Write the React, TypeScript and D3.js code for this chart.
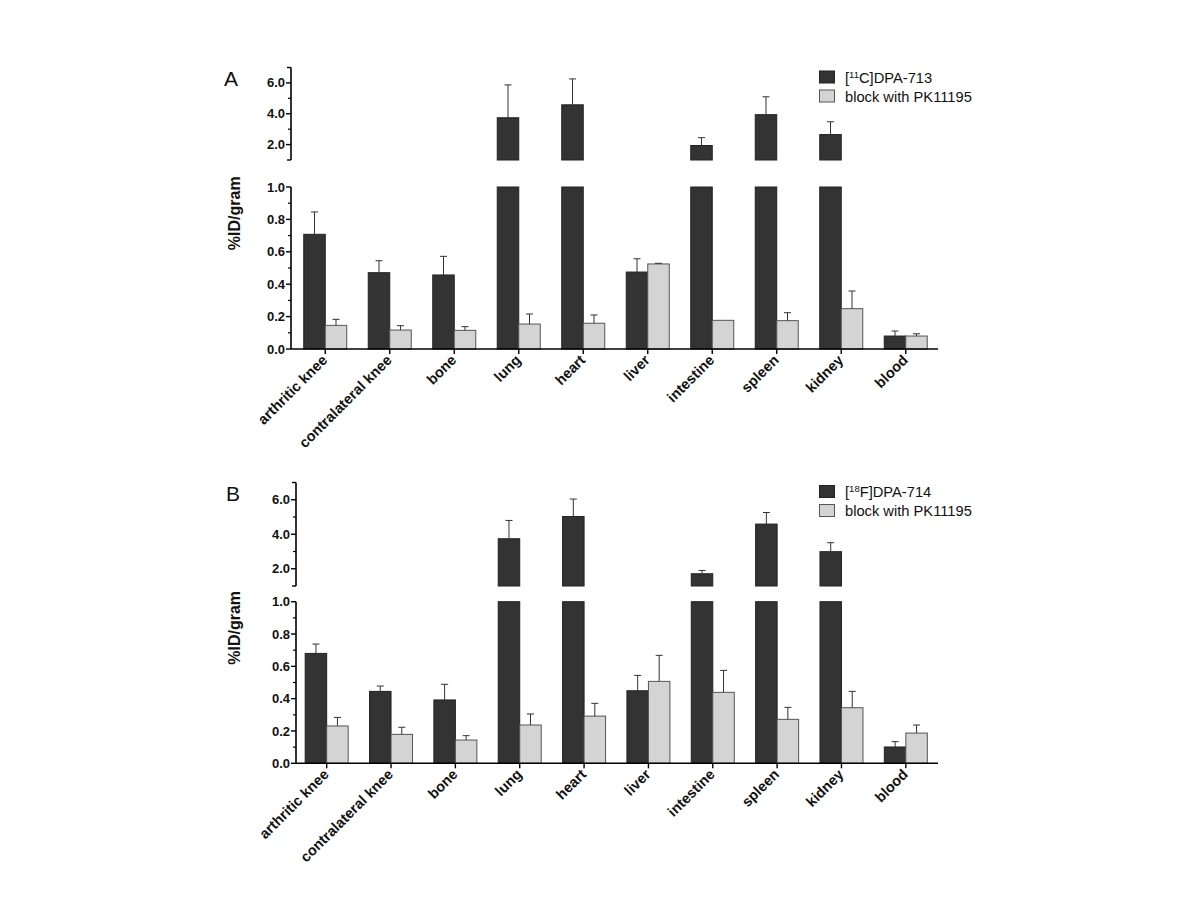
import React from "react";
import * as d3 from "d3";

const categories = [
  "arthritic knee",
  "contralateral knee",
  "bone",
  "lung",
  "heart",
  "liver",
  "intestine",
  "spleen",
  "kidney",
  "blood",
];

// Panel A
const aTracer = [0.708, 0.471, 0.457, 3.74, 4.58, 0.475, 1.94, 3.94, 2.65, 0.08];
const aTracerErr = [0.846, 0.545, 0.572, 5.87, 6.26, 0.557, 2.45, 5.1, 3.48, 0.111];
const aBlock = [0.146, 0.117, 0.115, 0.154, 0.159, 0.525, 0.177, 0.175, 0.249, 0.08];
const aBlockErr = [0.183, 0.144, 0.138, 0.216, 0.21, 0.529, 0.177, 0.224, 0.358, 0.094];

// Panel B
const bTracer = [0.68, 0.445, 0.392, 3.74, 5.03, 0.449, 1.71, 4.59, 2.99, 0.101];
const bTracerErr = [0.738, 0.478, 0.489, 4.8, 6.04, 0.544, 1.9, 5.26, 3.51, 0.134];
const bBlock = [0.231, 0.179, 0.144, 0.237, 0.292, 0.507, 0.439, 0.272, 0.344, 0.187];
const bBlockErr = [0.284, 0.223, 0.171, 0.305, 0.371, 0.668, 0.575, 0.346, 0.445, 0.237];

const lowerTicks = [0, 0.2, 0.4, 0.6, 0.8, 1.0];
const lowerMinor = [0.1, 0.3, 0.5, 0.7, 0.9];
const upperTicks = [2, 4, 6];
const upperMinor = [3, 5];

const FONT = "Arial, 'Liberation Sans', Helvetica, sans-serif";
const DARK = "#333333";
const LIGHT = "#d4d4d4";

type PanelProps = {
  letter: string;
  isotope: string;
  tracerName: string;
  tracer: number[];
  tracerErr: number[];
  block: number[];
  blockErr: number[];
  axisX: number;
  xStart: number;
  xEnd: number;
  lowerRange: [number, number];
  upperRange: [number, number];
  legendY: number;
  letterY: number;
};

function Panel(p: PanelProps) {
  const x = d3.scalePoint<string>().domain(categories).range([p.xStart, p.xEnd]).padding(0.5);
  const sub = d3.scaleBand<string>().domain(["t", "b"]).range([-21.5, 21.5]);
  const lower = d3.scaleLinear().domain([0, 1]).range(p.lowerRange);
  const upper = d3.scaleLinear().domain([1, 7]).range(p.upperRange);
  const y0 = lower(0);

  const bars: React.ReactNode[] = [];
  const errs: React.ReactNode[] = [];
  const series = [
    { key: "t", vals: p.tracer, err: p.tracerErr, fill: DARK, stroke: "#222" },
    { key: "b", vals: p.block, err: p.blockErr, fill: LIGHT, stroke: "#555" },
  ];
  series.forEach((s) => {
    categories.forEach((c, i) => {
      const cx = x(c)!;
      const bx = cx + sub(s.key)!;
      const bw = sub.bandwidth();
      const v = s.vals[i];
      const e = s.err[i];
      const yv = (val: number) => (val <= 1 ? lower(val) : upper(val));
      if (v <= 1) {
        bars.push(
          <rect key={`${s.key}-${i}`} x={bx} y={lower(v)} width={bw} height={y0 - lower(v)} fill={s.fill} stroke={s.stroke} strokeWidth={1} />
        );
      } else {
        bars.push(
          <rect key={`${s.key}-${i}-lo`} x={bx} y={lower(1)} width={bw} height={y0 - lower(1)} fill={s.fill} stroke={s.stroke} strokeWidth={1} />
        );
        bars.push(
          <rect key={`${s.key}-${i}-up`} x={bx} y={upper(v)} width={bw} height={upper(1) - upper(v)} fill={s.fill} stroke={s.stroke} strokeWidth={1} />
        );
      }
      if (e > v) {
        const ex = bx + bw / 2;
        errs.push(
          <g key={`e-${s.key}-${i}`} stroke="#333" strokeWidth={1}>
            <line x1={ex} x2={ex} y1={yv(v)} y2={yv(e)} />
            <line x1={ex - 3.5} x2={ex + 3.5} y1={yv(e)} y2={yv(e)} />
          </g>
        );
      }
    });
  });

  const ax = p.axisX;
  const [u0, u1] = p.upperRange;
  const tickLabelStyle = { fontFamily: FONT, fontSize: 13, fontWeight: 700, fill: "#111" } as const;

  return (
    <g>
      <text x={p.letter === "A" ? 224 : 226} y={p.letterY} fontFamily={FONT} fontSize={21} fill="#111">
        {p.letter}
      </text>
      <text
        transform={`translate(${240},${(lower(0) + upper(7)) / 2 + 5}) rotate(-90)`}
        textAnchor="middle"
        fontFamily={FONT}
        fontSize={16}
        fontWeight={700}
        fill="#111"
      >
        %ID/gram
      </text>
      {bars}
      {errs}
      {/* lower y axis */}
      <line x1={ax} x2={ax} y1={lower(0)} y2={lower(1)} stroke="#000" strokeWidth={1.6} />
      {lowerTicks.map((t) => (
        <g key={`lt${t}`}>
          <line x1={ax - 5} x2={ax} y1={lower(t)} y2={lower(t)} stroke="#000" strokeWidth={1.4} />
          <text x={ax - 6} y={lower(t)} dy="0.35em" textAnchor="end" {...tickLabelStyle}>
            {d3.format(".1f")(t)}
          </text>
        </g>
      ))}
      {lowerMinor.map((t) => (
        <line key={`lm${t}`} x1={ax - 3} x2={ax} y1={lower(t)} y2={lower(t)} stroke="#000" strokeWidth={1.2} />
      ))}
      {/* upper y axis */}
      <line x1={ax} x2={ax} y1={u0} y2={u1} stroke="#000" strokeWidth={1.6} />
      {upperTicks.map((t) => (
        <g key={`ut${t}`}>
          <line x1={ax - 5} x2={ax} y1={upper(t)} y2={upper(t)} stroke="#000" strokeWidth={1.4} />
          <text x={ax - 6} y={upper(t)} dy="0.35em" textAnchor="end" {...tickLabelStyle}>
            {d3.format(".1f")(t)}
          </text>
        </g>
      ))}
      {upperMinor.map((t) => (
        <line key={`um${t}`} x1={ax - 3} x2={ax} y1={upper(t)} y2={upper(t)} stroke="#000" strokeWidth={1.2} />
      ))}
      {[1, 7].map((t) => (
        <line key={`ue${t}`} x1={ax - 4} x2={ax} y1={upper(t)} y2={upper(t)} stroke="#000" strokeWidth={1.4} />
      ))}
      {/* x axis */}
      <line x1={ax} x2={p.xEnd} y1={y0} y2={y0} stroke="#000" strokeWidth={1.6} />
      {categories.map((c) => (
        <g key={`xt${c}`}>
          <line x1={x(c)!} x2={x(c)!} y1={y0} y2={y0 + 5} stroke="#000" strokeWidth={1.4} />
          <text
            transform={`translate(${x(c)! + 3},${y0 + 12}) rotate(-45)`}
            textAnchor="end"
            fontFamily={FONT}
            fontSize={14.5}
            fontWeight={700}
            fill="#111"
          >
            {c}
          </text>
        </g>
      ))}
      {/* legend */}
      <rect x={819.5} y={p.legendY} width={15} height={12} fill={DARK} stroke="#222" />
      <text x={845} y={p.legendY + 11.5} fontFamily={FONT} fontSize={14.7} fill="#111">
        [<tspan baselineShift="super" fontSize={9.5}>{p.isotope}</tspan>
        {p.tracerName}
      </text>
      <rect x={819.5} y={p.legendY + 19} width={15} height={12} fill={LIGHT} stroke="#555" />
      <text x={845} y={p.legendY + 30.5} fontFamily={FONT} fontSize={14.7} fill="#111">
        block with PK11195
      </text>
    </g>
  );
}

export default function App() {
  return (
    <svg width={1200} height={900} style={{ position: "absolute", left: 0, top: 0, background: "#fff" }}>
      <rect width={1200} height={900} fill="#fff" />
      <Panel
        letter="A"
        isotope="11"
        tracerName="C]DPA-713"
        tracer={aTracer}
        tracerErr={aTracerErr}
        block={aBlock}
        blockErr={aBlockErr}
        axisX={291}
        xStart={293}
        xEnd={938}
        lowerRange={[349, 187]}
        upperRange={[160, 67.5]}
        legendY={71}
        letterY={86}
      />
      <Panel
        letter="B"
        isotope="18"
        tracerName="F]DPA-714"
        tracer={bTracer}
        tracerErr={bTracerErr}
        block={bBlock}
        blockErr={bBlockErr}
        axisX={296}
        xStart={294.5}
        xEnd={938}
        lowerRange={[763.3, 601.7]}
        upperRange={[586, 482.5]}
        legendY={485.5}
        letterY={501}
      />
    </svg>
  );
}
